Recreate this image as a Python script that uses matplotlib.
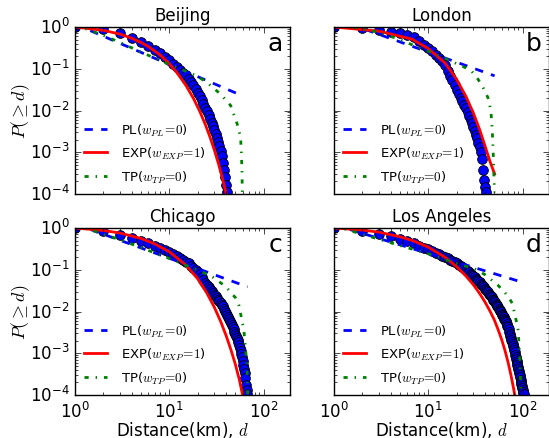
import numpy as np
import matplotlib
matplotlib.use('Agg')
import matplotlib.pyplot as plt

#------------------------------------------------------------------------------
#   Data (P(>=d) stored as log10 values)
#------------------------------------------------------------------------------

cities = ['Beijing', 'London', 'Chicago', 'Los Angeles']
letters = ['a', 'b', 'c', 'd']

# empirical points, one per km
beijing_d = list(range(1, 42))
beijing_logp = [0, -0.055, -0.15, -0.26, -0.36, -0.45, -0.54, -0.63, -0.72, -0.80,
                -0.88, -0.95, -1.02, -1.09, -1.16, -1.24, -1.32, -1.40, -1.48, -1.57,
                -1.66, -1.75, -1.84, -1.93, -2.02, -2.11, -2.20, -2.29, -2.38, -2.47,
                -2.57, -2.66, -2.76, -2.86, -2.97, -3.10, -3.25, -3.42, -3.60, -3.78, -3.95]

london_d = list(range(1, 42))
london_logp = [0, -0.02, -0.06, -0.11, -0.15, -0.19, -0.24, -0.33, -0.42, -0.50,
               -0.58, -0.66, -0.74, -0.82, -0.92, -1.05, -1.17, -1.28, -1.39, -1.50,
               -1.60, -1.69, -1.78, -1.86, -1.95, -2.04, -2.13, -2.22, -2.31, -2.40,
               -2.49, -2.58, -2.67, -2.77, -2.88, -3.00, -3.15, -3.42, -3.66, -3.83, -3.96]

chicago_d = list(range(1, 68))
chicago_logp = [0, -0.08, -0.17, -0.25, -0.31, -0.37, -0.42, -0.47, -0.52, -0.57,
                -0.62, -0.67, -0.72, -0.77, -0.81, -0.85, -0.90, -0.95, -1.00, -1.05,
                -1.11, -1.17, -1.24, -1.31, -1.37, -1.42, -1.47, -1.52, -1.56, -1.60,
                -1.64, -1.68, -1.72, -1.76, -1.80, -1.84, -1.88, -1.93, -1.98, -2.03,
                -2.08, -2.13, -2.18, -2.23, -2.28, -2.33, -2.38, -2.43, -2.48, -2.53,
                -2.58, -2.63, -2.68, -2.74, -2.80, -2.87, -2.94, -3.02, -3.10, -3.19,
                -3.28, -3.38, -3.48, -3.60, -3.75, -3.88, -3.97]

la_d = list(range(1, 103))
la_logp = [0, -0.06, -0.14, -0.20, -0.26, -0.32, -0.37, -0.42, -0.47, -0.51,
           -0.55, -0.59, -0.63, -0.67, -0.70, -0.73, -0.76, -0.79, -0.82, -0.85,
           -0.88, -0.91, -0.94, -0.97, -1.00, -1.03, -1.06, -1.09, -1.12, -1.15,
           -1.18, -1.21, -1.24, -1.27, -1.30, -1.33, -1.36, -1.39, -1.42, -1.45,
           -1.48, -1.51, -1.54, -1.57, -1.60, -1.63, -1.66, -1.69, -1.72, -1.75,
           -1.78, -1.81, -1.84, -1.87, -1.90, -1.93, -1.96, -1.99, -2.02, -2.05,
           -2.08, -2.11, -2.14, -2.17, -2.20, -2.23, -2.26, -2.30, -2.34, -2.38,
           -2.43, -2.48, -2.53, -2.58, -2.63, -2.68, -2.73, -2.78, -2.83, -2.88,
           -2.93, -2.98, -3.03, -3.08, -3.13, -3.18, -3.23, -3.28, -3.33, -3.38,
           -3.43, -3.48, -3.53, -3.58, -3.63, -3.68, -3.73, -3.78, -3.83, -3.88,
           -3.93, -3.97]

# fitted curves: power law (PL)
beijing_pl_d, beijing_pl_logp = [1, 59], [0.07, -1.645]
london_pl_d, london_pl_logp = [1, 50.4], [0.21, -1.17]
chicago_pl_d, chicago_pl_logp = [1, 67.5], [0.10, -1.41]
la_pl_d, la_pl_logp = [1, 96], [0.08, -1.29]

# exponential (EXP)
beijing_exp_d = [1, 2, 3, 4, 5, 6, 8, 10, 12, 15, 18, 21, 24, 27, 30, 33, 36, 39, 42]
beijing_exp_logp = [0, -0.08, -0.17, -0.27, -0.37, -0.47, -0.67, -0.88, -1.09, -1.40,
                    -1.71, -2.02, -2.33, -2.64, -2.95, -3.26, -3.57, -3.88, -4.19]
london_exp_d = [1, 3, 6.7, 10, 15, 20, 25, 30, 35, 40, 45, 50.4]
london_exp_logp = [0, -0.10, -0.29, -0.52, -0.86, -1.26, -1.66, -2.06, -2.46, -2.86, -3.22, -3.52]
chicago_exp_d = [1, 2, 3, 5, 7, 10, 15, 20, 25, 30, 35, 40, 45, 50, 55, 60]
chicago_exp_logp = [0, -0.06, -0.12, -0.25, -0.38, -0.57, -0.89, -1.22, -1.56, -1.90,
                    -2.24, -2.58, -2.92, -3.26, -3.62, -4.02]
la_exp_d = [1, 2, 3, 5, 7, 10, 15, 20, 25, 30, 35, 40, 45, 50, 55, 60, 65, 70, 75, 80, 83]
la_exp_logp = [0, -0.05, -0.10, -0.21, -0.31, -0.46, -0.70, -0.93, -1.15, -1.36, -1.57,
               -1.78, -1.99, -2.20, -2.44, -2.68, -2.94, -3.22, -3.52, -3.84, -4.05]

# truncated power law (TP)
beijing_tp_d = [1, 2, 3, 5, 10, 15, 20, 26.3, 35, 44.6, 52.3, 56.9, 58.2, 59, 59.3]
beijing_tp_logp = [0.05, -0.2, -0.37, -0.6, -0.9, -1.06, -1.18, -1.37, -1.61, -1.88,
                   -2.32, -2.64, -3.12, -3.52, -4.1]
london_tp_d = [1, 2, 3, 5, 8, 10, 15, 20, 25, 28.6, 33.6, 38, 42.8, 44.6, 46.3, 47.5,
               48.5, 49.3, 50.2]
london_tp_logp = [0.1, -0.05, -0.13, -0.3, -0.5, -0.58, -0.75, -0.88, -0.98, -1.05, -1.25,
                  -1.45, -1.69, -1.85, -2.1, -2.45, -2.9, -3.4, -3.96]
chicago_tp_d = [1, 2, 3, 5, 10, 17.6, 22, 28.6, 39.5, 50.2, 54.6, 57, 61.7, 64, 66.3,
                67.3, 67.8]
chicago_tp_logp = [0.08, -0.15, -0.28, -0.47, -0.73, -0.96, -1.05, -1.17, -1.40, -1.67,
                   -1.85, -2.06, -2.46, -2.86, -3.26, -3.66, -4.05]
la_tp_d = [1, 2, 5, 10, 20, 31, 40, 54.6, 65, 72.5, 78.5, 82, 89, 92.4, 94.6, 96]
la_tp_logp = [0.05, -0.15, -0.42, -0.62, -0.85, -0.98, -1.12, -1.37, -1.55, -1.69,
              -1.83, -2.06, -2.38, -2.94, -3.5, -4.05]

points = [(beijing_d, beijing_logp), (london_d, london_logp),
          (chicago_d, chicago_logp), (la_d, la_logp)]
pl_fits = [(beijing_pl_d, beijing_pl_logp), (london_pl_d, london_pl_logp),
           (chicago_pl_d, chicago_pl_logp), (la_pl_d, la_pl_logp)]
exp_fits = [(beijing_exp_d, beijing_exp_logp), (london_exp_d, london_exp_logp),
            (chicago_exp_d, chicago_exp_logp), (la_exp_d, la_exp_logp)]
tp_fits = [(beijing_tp_d, beijing_tp_logp), (london_tp_d, london_tp_logp),
           (chicago_tp_d, chicago_tp_logp), (la_tp_d, la_tp_logp)]

#------------------------------------------------------------------------------
#   Plot
#------------------------------------------------------------------------------

plt.style.use('classic')
plt.rcParams['axes.unicode_minus'] = False
plt.rcParams['mathtext.fontset'] = 'cm'

fig = plt.figure(figsize=(5.49, 4.39), dpi=100, facecolor='white')

W, H = 549.0, 439.0
boxes = [(75, 28), (334, 28), (75, 229), (334, 229)]   # left, top in pixels
aw, ah = 215, 167

for i in range(4):
    left, top = boxes[i]
    ax = fig.add_axes([left / W, (H - top - ah) / H, aw / W, ah / H])

    d, lp = points[i]
    ax.plot(d, 10 ** np.array(lp), 'o', mfc='b', mec='k', mew=0.6, ms=7)

    d, lp = pl_fits[i]
    ax.plot(d, 10 ** np.array(lp), '--', color='b', lw=2, label=r'PL($w_{PL}\!=\!0$)')
    d, lp = exp_fits[i]
    ax.plot(d, 10 ** np.array(lp), '-', color='r', lw=2, label=r'EXP($w_{EXP}\!=\!1$)')
    d, lp = tp_fits[i]
    ax.plot(d, 10 ** np.array(lp), '-.', color='g', lw=2, label=r'TP($w_{TP}\!=\!0$)')

    ax.set_xscale('log')
    ax.set_yscale('log')
    ax.set_xlim(1, 190)
    ax.set_ylim(1e-4, 1)
    ax.tick_params(labelsize=12)

    ax.set_title(cities[i], fontsize=12)
    ax.text(0.965, 0.905, letters[i], transform=ax.transAxes, ha='right', va='center',
            fontsize=18)

    ax.legend(loc='lower left', frameon=False, fontsize=9.5, numpoints=1,
              handlelength=1.7, handletextpad=1.1, labelspacing=0.55, borderaxespad=0.3)

    if i < 2:
        ax.tick_params(labelbottom=False)
    else:
        ax.set_xlabel(r'Distance(km), $d$', fontsize=12, labelpad=-1)
    if i % 2 == 1:
        ax.tick_params(labelleft=False)
    else:
        ax.set_ylabel(r'$P(\geq d)$', fontsize=13, labelpad=-2)

plt.savefig('out.png', dpi=100, facecolor='white')
